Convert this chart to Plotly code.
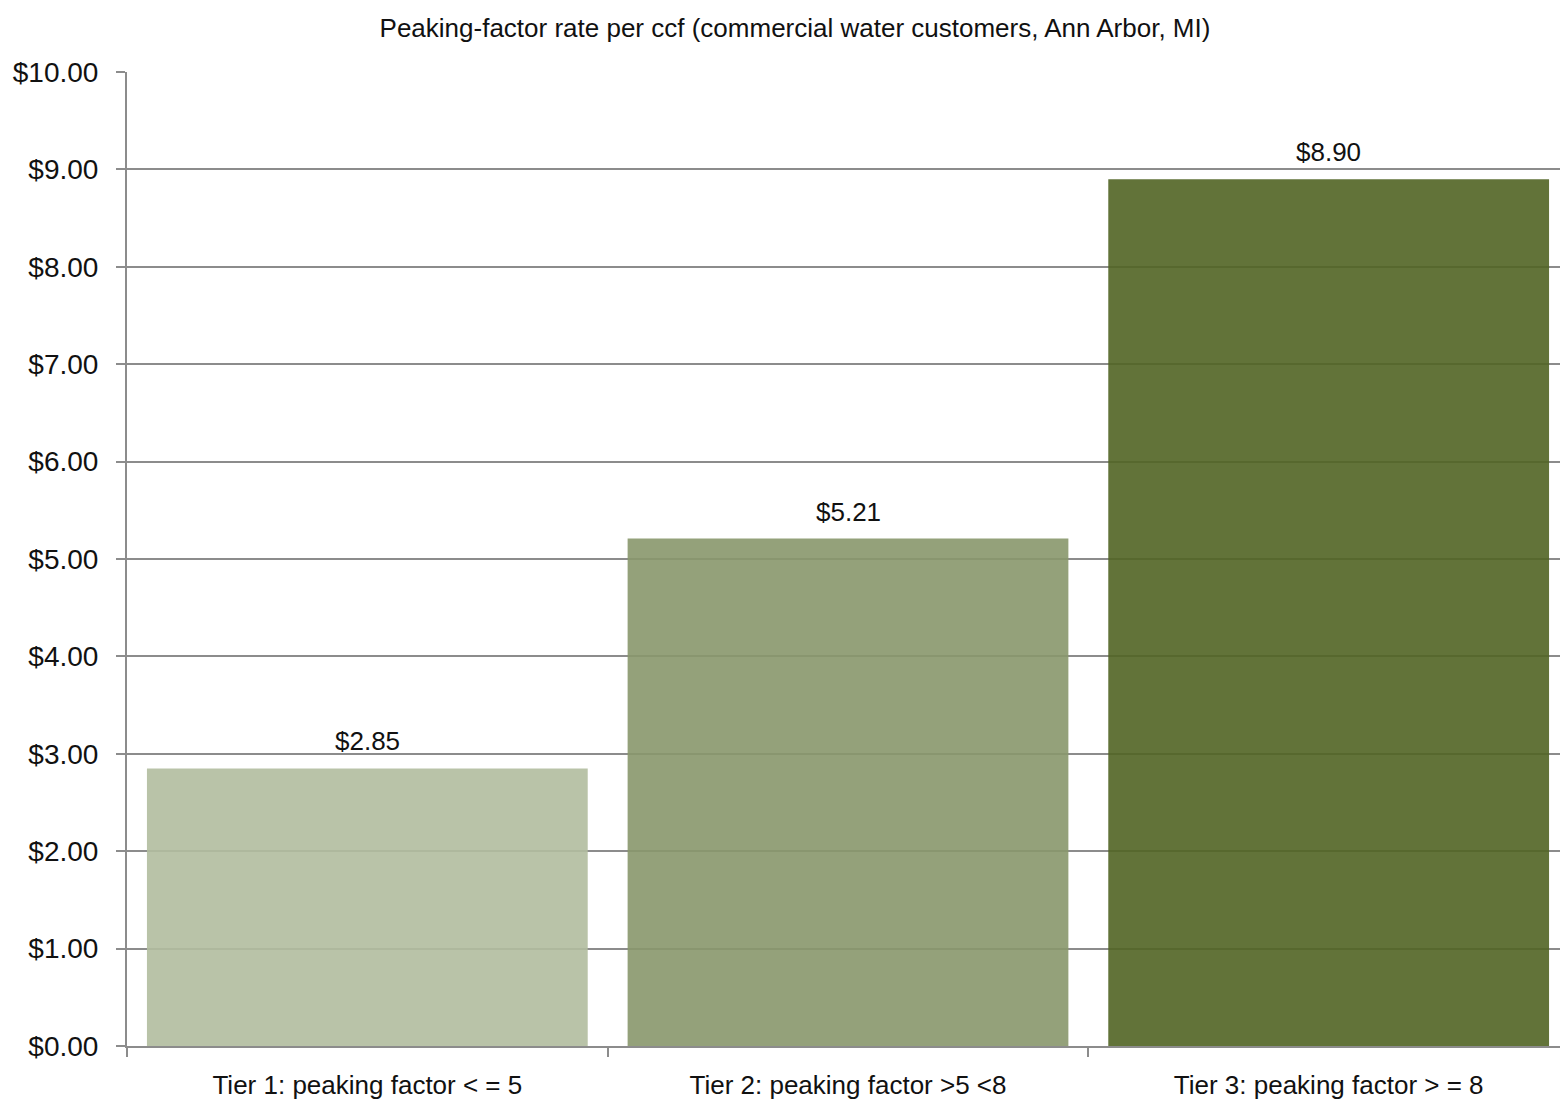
import plotly.graph_objects as go

categories = ["Tier 1: peaking factor < = 5", "Tier 2: peaking factor >5 <8", "Tier 3: peaking factor > = 8"]
rates = [2.85, 5.21, 8.90]
bar_colors = ["rgb(177,188,158)", "rgb(136,151,108)", "rgb(81,100,36)"]
y_ticks = [0, 1, 2, 3, 4, 5, 6, 7, 8, 9, 10]
y_tick_labels = ["$%.2f" % v for v in y_ticks]
title_text = "Peaking-factor rate per ccf (commercial water customers, Ann Arbor, MI)"

FONT = "Liberation Sans, Arial, sans-serif"
W, H = 1569, 1112

fig = go.Figure(go.Bar(
    x=categories, y=rates,
    marker=dict(color=bar_colors, line=dict(width=0), opacity=0.9),
    hoverinfo="skip",
))

for c, v in zip(categories, rates):
    fig.add_annotation(x=c, y=v, text="$%.2f" % v, showarrow=False,
                       yanchor="bottom", yshift=10,
                       font=dict(family=FONT, size=26, color="#111111"))

fig.update_layout(
    width=W, height=H,
    margin=dict(l=127, r=0, t=72, b=66),
    paper_bgcolor="white", plot_bgcolor="white",
    bargap=0.083,
    showlegend=False,
    title=dict(text=title_text, x=795 / W, xanchor="center", xref="container",
               y=1 - 28 / H, yanchor="middle", yref="container",
               font=dict(family=FONT, size=26, color="#111111")),
    font=dict(family=FONT, color="#111111"),
)
fig.update_yaxes(
    range=[0, 10], tickvals=y_ticks, ticktext=y_tick_labels,
    showgrid=True, gridcolor="#8c8c8c", gridwidth=1.5,
    showline=True, linecolor="#8c8c8c", linewidth=2,
    ticks="outside", ticklen=9, tickcolor="#8c8c8c", tickwidth=1.5,
    ticklabelstandoff=12,
    tickfont=dict(family=FONT, size=28, color="#111111"),
    layer="above traces", zeroline=False, fixedrange=True,
)
fig.update_xaxes(
    showline=True, linecolor="#8c8c8c", linewidth=2,
    ticks="outside", tickson="boundaries", ticklen=9, tickcolor="#8c8c8c", tickwidth=1.5,
    ticklabelstandoff=15,
    tickfont=dict(family=FONT, size=26, color="#111111"),
    showgrid=False, layer="above traces", fixedrange=True,
)

fig.write_html(
    "out.html",
    config={"displayModeBar": False},
    post_script="document.body.style.margin='0';document.body.style.overflow='hidden';"
                "document.documentElement.style.overflow='hidden';",
)
